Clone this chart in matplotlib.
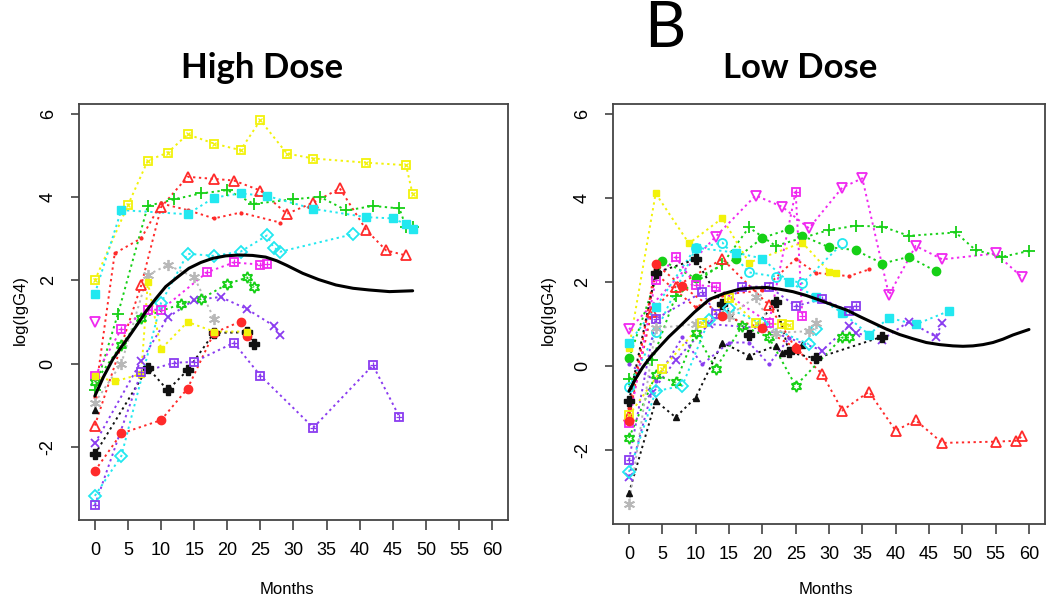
import matplotlib
matplotlib.use("Agg")
import matplotlib.pyplot as plt

# ---- High Dose subjects: months, log(IgG4) ----
hd_yellow_sq_m = [0, 5, 8, 11, 14, 18, 22, 25, 29, 33, 41, 47, 48]
hd_yellow_sq_v = [2.0, 3.81, 4.88, 5.07, 5.51, 5.29, 5.13, 5.85, 5.05, 4.93, 4.83, 4.77, 4.07]
hd_red_tri_m = [0, 7, 10, 14, 18, 21, 25, 29, 33, 37, 41, 44, 47]
hd_red_tri_v = [-1.49, 1.88, 3.76, 4.49, 4.44, 4.40, 4.16, 3.60, 3.87, 4.21, 3.21, 2.72, 2.60]
hd_red_dot_m = [0, 3, 7, 10, 14, 18, 22, 28]
hd_red_dot_v = [-0.8, 2.65, 3.01, 3.85, 3.69, 3.49, 3.63, 3.39]
hd_green_plus_m = [0, 3.5, 8, 12, 16, 20, 24, 30, 34, 38, 42, 46, 47, 48]
hd_green_plus_v = [-0.63, 1.2, 3.79, 3.95, 4.09, 4.17, 3.84, 3.95, 4.01, 3.68, 3.79, 3.73, 3.28, 3.29]
hd_cyan_sq_m = [0, 4, 14, 18, 22, 26, 33, 41, 45, 47, 48]
hd_cyan_sq_v = [1.68, 3.69, 3.59, 3.99, 4.09, 4.03, 3.72, 3.52, 3.49, 3.35, 3.24]
hd_cyan_dia_m = [0, 4, 10, 14, 18, 22, 26, 27, 28, 39]
hd_cyan_dia_v = [-3.18, -2.22, 1.46, 2.64, 2.59, 2.69, 3.08, 2.79, 2.69, 3.11]
hd_gray_ast_m = [0, 4, 8, 11, 15, 18]
hd_gray_ast_v = [-0.94, 0.0, 2.13, 2.37, 2.08, 1.08]
hd_mag_tri_m = [0]
hd_mag_tri_v = [1.0]
hd_mag_sq_m = [0, 4, 8, 10, 17, 21, 25, 26]
hd_mag_sq_v = [-0.30, 0.83, 1.30, 1.29, 2.20, 2.43, 2.38, 2.40]
hd_green_hex_m = [0, 4, 7, 13, 16, 20, 23, 24]
hd_green_hex_v = [-0.45, 0.44, 1.10, 1.43, 1.55, 1.91, 2.07, 1.83]
hd_purple_x_m = [0, 7, 11, 15, 19, 23, 27, 28]
hd_purple_x_v = [-1.92, 0.06, 1.11, 1.53, 1.60, 1.31, 0.91, 0.68]
hd_black_dia_m = [0, 8, 11, 14, 18, 23, 24]
hd_black_dia_v = [-2.18, -0.10, -0.64, -0.16, 0.74, 0.75, 0.48]
hd_red_circ_m = [0, 4, 10, 14, 18, 22, 23]
hd_red_circ_v = [-2.58, -1.68, -1.36, -0.60, 0.74, 1.01, 0.67]
hd_yellow_dot_m = [0, 3, 7, 8, 10, 14, 18, 23]
hd_yellow_dot_v = [-0.3, -0.43, -0.25, 1.96, 0.35, 1.0, 0.77, 0.77]
hd_purple_sq_m = [0, 7, 12, 15, 21, 25, 33, 42, 46]
hd_purple_sq_v = [-3.41, -0.21, 0.02, 0.04, 0.50, -0.29, -1.54, -0.04, -1.28]
hd_black_tri_m = [0]
hd_black_tri_v = [-1.12]
hd_fit_m = [0, 1.3, 2.7, 4, 5.2, 6.5, 7.7, 9.2, 10.7, 12.5, 14.2, 16, 17.8, 19.8, 21.8, 23.8,
            25.8, 27.5, 29, 31.4, 33.8, 36.4, 39, 41.4, 44.5, 48]
hd_fit_v = [-0.78, -0.32, 0.10, 0.40, 0.66, 0.96, 1.25, 1.56, 1.85, 2.08, 2.29, 2.43, 2.53, 2.59,
            2.61, 2.60, 2.56, 2.47, 2.36, 2.17, 2.02, 1.89, 1.81, 1.77, 1.73, 1.75]

# ---- Low Dose subjects ----
ld_mag_tri_m = [0, 13, 19, 23, 27, 32, 35, 39, 43, 47, 55, 59]
ld_mag_tri_v = [0.87, 3.08, 4.06, 3.79, 3.28, 4.25, 4.47, 1.69, 2.86, 2.54, 2.68, 2.11]
ld_green_plus_m = [0, 3.5, 7, 14, 18, 22, 30, 34, 38, 42, 49, 52, 56, 60]
ld_green_plus_v = [-0.3, 0.15, 1.67, 2.43, 3.30, 2.86, 3.24, 3.34, 3.32, 3.10, 3.18, 2.76, 2.60, 2.74]
ld_green_circ_m = [0, 5, 10, 16, 20, 24, 26, 30, 34, 38, 42, 46]
ld_green_circ_v = [0.18, 2.51, 2.09, 2.55, 3.05, 3.26, 3.10, 2.83, 2.76, 2.44, 2.60, 2.26]
ld_yellow_dot_m = [0, 4, 9, 14, 18, 26, 30, 31]
ld_yellow_dot_v = [0.42, 4.11, 2.92, 3.52, 2.46, 2.94, 2.25, 2.21]
ld_red_dot_m = [0, 4, 10, 14, 20, 25, 28, 33, 36]
ld_red_dot_v = [-1.0, 2.2, 1.4, 1.7, 1.8, 2.55, 2.22, 2.14, 2.30]
ld_red_tri_m = [0, 3.4, 7, 14, 21, 25, 29, 32, 36, 40, 43, 47, 55, 58, 59]
ld_red_tri_v = [-1.2, 1.29, 1.89, 2.55, 1.45, 0.42, -0.19, -1.06, -0.61, -1.54, -1.29, -1.83, -1.80, -1.78, -1.67]
ld_cyan_sq_m = [0, 4, 10, 16, 20, 24, 28, 32, 36, 39, 43, 48]
ld_cyan_sq_v = [0.55, 1.4, 2.82, 2.70, 2.56, 2.0, 1.65, 1.27, 0.75, 1.15, 0.99, 1.31]
ld_cyan_circ_m = [0, 4, 10, 14, 18, 22, 26, 32]
ld_cyan_circ_v = [-0.5, 0.8, 2.80, 2.94, 2.23, 2.13, 1.97, 2.92]
ld_mag_sq_m = [0, 4, 7, 10, 13, 21, 25, 26]
ld_mag_sq_v = [-1.35, 2.06, 2.59, 1.93, 1.89, 1.03, 4.15, 1.19]
ld_purple_sq_m = [0, 4, 11, 13, 17, 21, 25, 29, 33, 34]
ld_purple_sq_v = [-2.24, 1.12, 1.76, 1.24, 1.89, 1.89, 1.43, 1.59, 1.31, 1.43]
ld_purple_x_m = [0, 3.4, 7, 12, 20, 29, 33, 34, 38, 42, 46, 47]
ld_purple_x_v = [-2.63, -0.63, 0.14, 1.0, 0.9, 0.37, 0.96, 0.79, 0.63, 1.06, 0.70, 1.02]
ld_black_tri_m = [0, 4, 7, 10, 14, 18, 22, 23, 26]
ld_black_tri_v = [-3.02, -0.83, -1.22, -0.75, 0.56, 0.24, 0.48, 0.30, 0.5]
ld_black_dia_m = [0, 4, 10, 14, 18, 22, 24, 28, 38]
ld_black_dia_v = [-0.83, 2.22, 2.54, 1.47, 0.75, 1.52, 0.33, 0.18, 0.70]
ld_green_hex_m = [0, 4, 7, 10, 13, 17, 21, 25, 32, 33]
ld_green_hex_v = [-1.71, -0.21, -0.39, 0.79, -0.06, 0.96, 0.68, -0.47, 0.68, 0.68]
ld_cyan_dia_m = [0, 4, 8, 12, 15, 20, 27, 28]
ld_cyan_dia_v = [-2.52, -0.6, -0.47, 1.1, 1.37, 1.0, 0.52, 0.87]
ld_gray_ast_m = [0, 4, 10, 15, 19, 22, 27, 28]
ld_gray_ast_v = [-3.29, 0.9, 1.0, 1.2, 1.64, 0.79, 0.83, 1.02]
ld_purple_dot_m = [0, 4, 8, 11, 15, 18, 21, 24]
ld_purple_dot_v = [0.04, -0.35, 0.68, 0.04, 0.56, 0.56, 0.04, 0.66]
ld_yellow_sq_m = [0, 5, 11, 15, 19, 23, 24]
ld_yellow_sq_v = [-1.17, -0.07, 1.03, 1.63, 1.03, 0.99, 0.98]
ld_red_circ_m = [0, 4, 8, 14, 20, 25]
ld_red_circ_v = [-1.3, 2.43, 1.9, 1.2, 0.9, 0.43]
ld_fit_m = [0, 1, 2.1, 3.3, 4.6, 6, 7.6, 9.8, 12.1, 14.3, 16.6, 18.6, 20.6, 22.6, 24.6, 26.6,
            28.6, 30.6, 32.7, 34.6, 36.6, 38.6, 40.6, 42.6, 44.6, 46.6, 48.6, 50.1, 51.6, 53.1,
            54.6, 56.1, 57.6, 60]
ld_fit_v = [-0.6, -0.3, -0.02, 0.23, 0.46, 0.70, 0.94, 1.28, 1.59, 1.73, 1.83, 1.86, 1.87, 1.83,
            1.77, 1.68, 1.57, 1.45, 1.33, 1.18, 1.03, 0.88, 0.75, 0.65, 0.56, 0.51, 0.48, 0.47,
            0.48, 0.51, 0.56, 0.64, 0.74, 0.87]

x_ticks = list(range(0, 61, 5))
y_ticks = [-2, 0, 2, 4, 6]

# R-like palette
RED, GREEN, CYAN, MAG = "#ff2a2a", "#16d016", "#22e8f0", "#f028f0"
YEL, GRAY, PUR, BLK = "#f2f20a", "#b8b8b8", "#8a3cf0", "#111111"

hd_series = [
    (hd_yellow_sq_m, hd_yellow_sq_v, YEL, "sqx"),
    (hd_red_tri_m, hd_red_tri_v, RED, "tri"),
    (hd_red_dot_m, hd_red_dot_v, RED, "dot"),
    (hd_green_plus_m, hd_green_plus_v, GREEN, "plus"),
    (hd_cyan_sq_m, hd_cyan_sq_v, CYAN, "fsq"),
    (hd_cyan_dia_m, hd_cyan_dia_v, CYAN, "dia"),
    (hd_gray_ast_m, hd_gray_ast_v, GRAY, "ast"),
    (hd_mag_tri_m, hd_mag_tri_v, MAG, "dtri"),
    (hd_mag_sq_m, hd_mag_sq_v, MAG, "sqp"),
    (hd_green_hex_m, hd_green_hex_v, GREEN, "hex"),
    (hd_purple_x_m, hd_purple_x_v, PUR, "x"),
    (hd_black_dia_m, hd_black_dia_v, BLK, "bdp"),
    (hd_red_circ_m, hd_red_circ_v, RED, "fcirc"),
    (hd_yellow_dot_m, hd_yellow_dot_v, YEL, "ssq"),
    (hd_purple_sq_m, hd_purple_sq_v, PUR, "sqp"),
    (hd_black_tri_m, hd_black_tri_v, BLK, "ftri"),
]
ld_series = [
    (ld_mag_tri_m, ld_mag_tri_v, MAG, "dtri"),
    (ld_green_plus_m, ld_green_plus_v, GREEN, "plus"),
    (ld_green_circ_m, ld_green_circ_v, GREEN, "fcirc"),
    (ld_yellow_dot_m, ld_yellow_dot_v, YEL, "ssq"),
    (ld_red_dot_m, ld_red_dot_v, RED, "dot"),
    (ld_red_tri_m, ld_red_tri_v, RED, "tri"),
    (ld_cyan_sq_m, ld_cyan_sq_v, CYAN, "fsq"),
    (ld_cyan_circ_m, ld_cyan_circ_v, CYAN, "circ"),
    (ld_mag_sq_m, ld_mag_sq_v, MAG, "sqp"),
    (ld_purple_sq_m, ld_purple_sq_v, PUR, "sqp"),
    (ld_purple_x_m, ld_purple_x_v, PUR, "x"),
    (ld_black_tri_m, ld_black_tri_v, BLK, "ftri"),
    (ld_black_dia_m, ld_black_dia_v, BLK, "bdp"),
    (ld_green_hex_m, ld_green_hex_v, GREEN, "hex"),
    (ld_cyan_dia_m, ld_cyan_dia_v, CYAN, "dia"),
    (ld_gray_ast_m, ld_gray_ast_v, GRAY, "ast"),
    (ld_purple_dot_m, ld_purple_dot_v, PUR, "dot"),
    (ld_yellow_sq_m, ld_yellow_sq_v, YEL, "sqx"),
    (ld_red_circ_m, ld_red_circ_v, RED, "fcirc"),
]


def draw(ax, m, v, col, kind):
    ax.plot(m, v, ls=(0, (1.2, 1.8)), color=col, lw=1.4, zorder=2)
    kw = dict(ls="none", color=col, zorder=3)
    if kind == "sqx":
        ax.plot(m, v, marker="s", ms=6, mfc="none", mew=1.3, **kw)
        ax.plot(m, v, marker="x", ms=3.5, mew=0.9, **kw)
    elif kind == "sqp":
        ax.plot(m, v, marker="s", ms=6, mfc="none", mew=1.3, **kw)
        ax.plot(m, v, marker="+", ms=5, mew=0.9, **kw)
    elif kind == "tri":
        ax.plot(m, v, marker="^", ms=7, mfc="none", mew=1.3, **kw)
    elif kind == "dtri":
        ax.plot(m, v, marker="v", ms=7, mfc="none", mew=1.3, **kw)
    elif kind == "ftri":
        ax.plot(m, v, marker="^", ms=4.5, **kw)
    elif kind == "dot":
        ax.plot(m, v, marker="o", ms=3, mew=0, **kw)
    elif kind == "plus":
        ax.plot(m, v, marker="+", ms=8, mew=1.3, **kw)
    elif kind == "x":
        ax.plot(m, v, marker="x", ms=6, mew=1.3, **kw)
    elif kind == "fsq":
        ax.plot(m, v, marker="s", ms=5.5, **kw)
    elif kind == "ssq":
        ax.plot(m, v, marker="s", ms=4, **kw)
    elif kind == "dia":
        ax.plot(m, v, marker="D", ms=6, mfc="none", mew=1.3, **kw)
    elif kind == "circ":
        ax.plot(m, v, marker="o", ms=6.5, mfc="none", mew=1.3, **kw)
    elif kind == "fcirc":
        ax.plot(m, v, marker="o", ms=6, **kw)
    elif kind == "ast":
        ax.plot(m, v, marker=(6, 2, 0), ms=8, mew=1.3, **kw)
    elif kind == "hex":
        ax.plot(m, v, marker=(6, 1, 0), ms=8, mfc="none", mew=1.3, **kw)
    elif kind == "bdp":
        ax.plot(m, v, marker="P", ms=7, **kw)


TICKFONT = ["Liberation Sans Narrow", "Liberation Sans"]

fig = plt.figure(figsize=(10.5, 6.04), dpi=100)
axL = fig.add_axes([0.0752, 0.1391, 0.4086, 0.6887])
axR = fig.add_axes([0.5838, 0.1325, 0.4114, 0.6954])

for ax, series, fm, fv in [(axL, hd_series, hd_fit_m, hd_fit_v),
                           (axR, ld_series, ld_fit_m, ld_fit_v)]:
    for m, v, col, kind in series:
        draw(ax, m, v, col, kind)
    ax.plot(fm, fv, color="black", lw=2.2, zorder=4, solid_capstyle="round",
            solid_joinstyle="round")
    ax.set_xlim(-2.4, 62.4)
    ax.set_ylim(-3.76, 6.24)
    ax.set_xticks(x_ticks)
    ax.set_xticklabels([str(t) for t in x_ticks], family=TICKFONT, fontsize=13)
    ax.set_yticks(y_ticks)
    ax.set_yticklabels([str(t) for t in y_ticks], family=TICKFONT, fontsize=13,
                       rotation=90, va="center")
    ax.tick_params(axis="x", length=7, width=1.1, pad=9, color="#333333")
    ax.tick_params(axis="y", length=6, width=1.1, pad=10, color="#333333")
    for s in ax.spines.values():
        s.set_color("#444444")
        s.set_linewidth(1.3)

fig.text(20 / 1050, 1 - 310 / 604, "log(IgG4)", rotation=90, ha="center", va="center",
         family=TICKFONT, fontsize=12)
fig.text(548 / 1050, 1 - 310 / 604, "log(IgG4)", rotation=90, ha="center", va="center",
         family=TICKFONT, fontsize=12)
fig.text(287 / 1050, 1 - 590 / 604, "Months", ha="center", va="center",
         family=TICKFONT, fontsize=12)
fig.text(826 / 1050, 1 - 590 / 604, "Months", ha="center", va="center",
         family=TICKFONT, fontsize=12)

fig.text(262 / 1050, 1 - 68 / 604, "High Dose", ha="center", va="center",
         family="Lato", weight="bold", fontsize=25)
fig.text(800 / 1050, 1 - 68 / 604, "Low Dose", ha="center", va="center",
         family="Lato", weight="bold", fontsize=25)
fig.text(665 / 1050, 1 - 29 / 604, "B", ha="center", va="center",
         family="Lato", fontsize=46)

fig.savefig("out.png", dpi=100)
